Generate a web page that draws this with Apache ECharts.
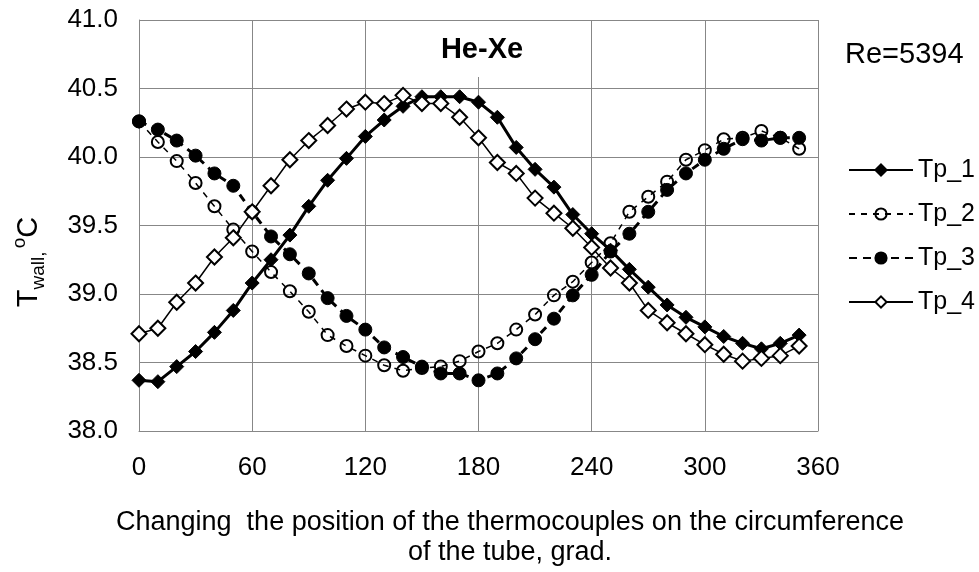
<!DOCTYPE html>
<html>
<head>
<meta charset="utf-8">
<script src="https://cdn.jsdelivr.net/npm/echarts@6/dist/echarts.min.js"></script>
<style>
html, body { margin: 0; padding: 0; background: #fff; }
#chart { width: 979px; height: 572px; }
</style>
</head>
<body>
<div id="chart"></div>
<script>
// thermocouple positions, grad
const angles = [0,10,20,30,40,50,60,70,80,90,100,110,120,130,140,150,160,170,
                180,190,200,210,220,230,240,250,260,270,280,290,300,310,320,330,340,350];

// wall temperature, degC
const tp1 = [38.37,38.36,38.47,38.58,38.72,38.88,39.08,39.25,39.43,39.64,39.83,39.99,40.15,40.27,40.37,40.44,40.44,40.44,
             40.40,40.29,40.07,39.91,39.78,39.58,39.44,39.32,39.18,39.05,38.92,38.83,38.76,38.69,38.64,38.60,38.64,38.70];
const tp2 = [40.26,40.11,39.97,39.81,39.64,39.47,39.31,39.16,39.02,38.87,38.70,38.62,38.55,38.48,38.44,38.46,38.47,38.51,
             38.58,38.64,38.74,38.85,38.99,39.09,39.23,39.37,39.60,39.71,39.82,39.98,40.05,40.13,40.14,40.19,40.14,40.06];
const tp3 = [40.26,40.20,40.12,40.01,39.88,39.79,39.60,39.42,39.29,39.15,38.97,38.84,38.74,38.61,38.54,38.47,38.42,38.42,
             38.37,38.42,38.53,38.67,38.82,38.99,39.14,39.31,39.44,39.60,39.76,39.88,39.98,40.06,40.13,40.12,40.14,40.14];
const tp4 = [38.71,38.75,38.94,39.08,39.27,39.41,39.60,39.79,39.98,40.12,40.23,40.35,40.40,40.39,40.45,40.39,40.39,40.29,
             40.14,39.96,39.88,39.70,39.59,39.48,39.34,39.19,39.08,38.88,38.79,38.71,38.63,38.56,38.51,38.53,38.55,38.62];

const seriesNames = ['Tp_1', 'Tp_2', 'Tp_3', 'Tp_4'];
const xTicks = [0, 60, 120, 180, 240, 300, 360];
const yTicks = [38.0, 38.5, 39.0, 39.5, 40.0, 40.5, 41.0];

const font = 'Liberation Sans, Arial, sans-serif';
const gridColor = '#878787';

function pairs(vals) {
    return angles.map((a, i) => [a, vals[i]]);
}

var myChart = echarts.init(document.getElementById('chart'));

var option = {
    animation: false,
    backgroundColor: '#fff',
    grid: { left: 139, right: 161, top: 20, bottom: 141 },
    xAxis: {
        type: 'value',
        min: xTicks[0],
        max: xTicks[xTicks.length - 1],
        interval: 60,
        axisLine: { show: true, lineStyle: { color: gridColor, width: 1 } },
        axisTick: { show: false },
        axisLabel: { color: '#000', fontFamily: font, fontSize: 26, margin: 24 },
        splitLine: { show: true, lineStyle: { color: gridColor, width: 1 } }
    },
    yAxis: {
        type: 'value',
        min: yTicks[0],
        max: yTicks[yTicks.length - 1],
        interval: 0.5,
        axisLine: { show: true, lineStyle: { color: gridColor, width: 1 } },
        axisTick: { show: false },
        axisLabel: {
            color: '#000', fontFamily: font, fontSize: 26, margin: 21,
            formatter: v => v.toFixed(1)
        },
        splitLine: { show: true, lineStyle: { color: gridColor, width: 1 } }
    },
    legend: {
        orient: 'vertical',
        left: 843,
        top: 152,
        itemWidth: 64,
        itemHeight: 14,
        itemGap: 18,
        textStyle: { color: '#000', fontFamily: font, fontSize: 25, lineHeight: 26 },
        data: seriesNames
    },
    graphic: [
        {
            type: 'rect', z: 50,
            shape: { x: 430, y: 21, width: 104, height: 56 },
            style: { fill: '#fff' }
        },
        {
            type: 'text', z: 51, x: 482, y: 50,
            style: {
                text: 'He-Xe', fontFamily: font, fontSize: 29, fontWeight: 'bold',
                fill: '#000', align: 'center', verticalAlign: 'middle'
            }
        },
        {
            type: 'text', x: 845, y: 55,
            style: {
                text: 'Re=5394', fontFamily: font, fontSize: 29,
                fill: '#000', align: 'left', verticalAlign: 'middle'
            }
        },
        {
            type: 'text', x: 510, y: 538,
            style: {
                text: 'Changing  the position of the thermocouples on the circumference\nof the tube, grad.',
                fontFamily: font, fontSize: 27, lineHeight: 30,
                fill: '#000', align: 'center', verticalAlign: 'middle'
            }
        },
        {
            type: 'text', x: 29, y: 262, rotation: Math.PI / 2,
            style: {
                text: '{t|T}{s|wall,} {o|o}{t|C}',
                fill: '#000', align: 'center', verticalAlign: 'middle',
                rich: {
                    t: { fontFamily: font, fontSize: 29, lineHeight: 38, verticalAlign: 'middle' },
                    s: { fontFamily: font, fontSize: 19, lineHeight: 38, verticalAlign: 'bottom' },
                    o: { fontFamily: font, fontSize: 19, lineHeight: 38, verticalAlign: 'top' }
                }
            }
        }
    ],
    series: [
        {
            name: 'Tp_1', type: 'line', data: pairs(tp1), z: 4,
            symbol: 'diamond', symbolSize: 14, showAllSymbol: true,
            lineStyle: { color: '#000', width: 3, type: 'solid' },
            itemStyle: { color: '#000', borderColor: '#000', borderWidth: 1 }
        },
        {
            name: 'Tp_2', type: 'line', data: pairs(tp2), z: 3,
            symbol: 'circle', symbolSize: 12, showAllSymbol: true,
            lineStyle: { color: '#000', width: 1.5, type: [6, 6] },
            itemStyle: { color: 'rgba(255,255,255,0)', borderColor: '#000', borderWidth: 2 }
        },
        {
            name: 'Tp_3', type: 'line', data: pairs(tp3), z: 2,
            symbol: 'circle', symbolSize: 13, showAllSymbol: true,
            lineStyle: { color: '#000', width: 3, type: [8, 6] },
            itemStyle: { color: '#000', borderColor: '#000', borderWidth: 1 }
        },
        {
            name: 'Tp_4', type: 'line', data: pairs(tp4), z: 5,
            symbol: 'diamond', symbolSize: 15, showAllSymbol: true,
            lineStyle: { color: '#000', width: 1.5, type: 'solid' },
            itemStyle: { color: '#fff', borderColor: '#000', borderWidth: 2 }
        }
    ]
};

myChart.setOption(option);
</script>
</body>
</html>
